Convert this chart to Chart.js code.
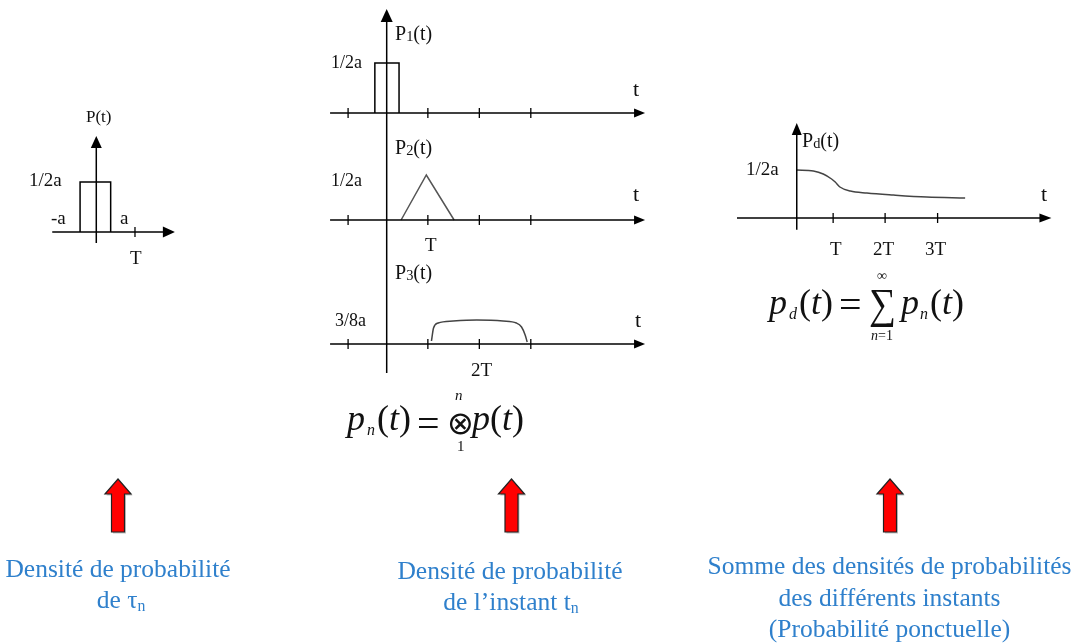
<!DOCTYPE html>
<html>
<head>
<meta charset="utf-8">
<script src="https://cdn.jsdelivr.net/npm/chart.js@4.4.0/dist/chart.umd.min.js"></script>
<style>
html, body { margin: 0; padding: 0; background: #fff; }
#wrap { position: relative; width: 1076px; height: 644px; overflow: hidden;
        font-family: "Liberation Serif", "Times New Roman", serif; color: #111; }
canvas { position: absolute; }
.lbl { position: absolute; white-space: nowrap; line-height: 1; }
.blue { color: #2f80cc; }
.sub { font-size: 0.72em; vertical-align: -0.08em; line-height: 0; }
.subn { font-size: 0.62em; vertical-align: -0.18em; line-height: 0; }
#arrows { position: absolute; left: 0; top: 0; }
</style>
</head>
<body>
<div id="wrap">
  <canvas id="cLeft" width="145" height="125" style="left:40px;top:125px"></canvas>
  <canvas id="cP1" width="350" height="140" style="left:310px;top:0px"></canvas>
  <canvas id="cP2" width="350" height="122" style="left:310px;top:140px"></canvas>
  <canvas id="cP3" width="350" height="118" style="left:310px;top:262px"></canvas>
  <canvas id="cRight" width="343" height="125" style="left:724px;top:115px"></canvas>
  <svg id="arrows" width="1076" height="644"></svg>
</div>
<script>
// --- values (t in units of T, or of a for the left plot) ---
// left : density of tau_n, a rectangle of height 1/2a between -a and a
const pT = [-1.06, -1.06, 0.94, 0.94];
const pVal = [0, 0.5, 0.5, 0];
const pTicks = [2.53];

// middle : p1, p2, p3
const p1T = [-0.23, -0.23, 0.24, 0.24];
const p1Val = [0, 0.5, 0.5, 0];
const p2T = [0.28, 0.77, 1.31];
const p2Val = [0, 0.45, 0];
const p3T = [0.87, 0.91, 1.0, 1.29, 1.75, 2.26, 2.52, 2.62, 2.69, 2.73];
const p3Val = [0.03, 0.16, 0.21, 0.23, 0.24, 0.23, 0.21, 0.17, 0.09, 0.02];
const midTicks = [-0.75, 0.8, 1.8, 2.8];

// right : sum of the densities
const pdT = [0, 0.32, 0.51, 0.67, 0.74, 0.83, 1.03, 1.35, 1.86, 2.5, 3.24];
const pdVal = [0.48, 0.47, 0.44, 0.39, 0.36, 0.31, 0.27, 0.25, 0.23, 0.21, 0.2];
const pdTicks = [0.7, 1.7, 2.71];

const wrap = document.getElementById('wrap');

// draws the x / y axes, the arrow heads and the little ticks
const axesPlugin = {
    id: 'axesArrows',
    afterDatasetsDraw(chart, args, o) {
        const ctx = chart.ctx, sx = chart.scales.x, sy = chart.scales.y;
        const x0 = sx.getPixelForValue(0), y0 = sy.getPixelForValue(0);
        ctx.save();
        ctx.strokeStyle = '#000';
        ctx.fillStyle = '#000';
        ctx.lineWidth = 1.5;

        const xa = sx.getPixelForValue(o.xFrom), xb = sx.getPixelForValue(o.xTo);
        ctx.beginPath();
        ctx.moveTo(xa, y0);
        ctx.lineTo(xb - o.hLen + 1, y0);
        ctx.stroke();
        ctx.beginPath();
        ctx.moveTo(xb, y0);
        ctx.lineTo(xb - o.hLen, y0 - o.hHalf);
        ctx.lineTo(xb - o.hLen, y0 + o.hHalf);
        ctx.closePath();
        ctx.fill();

        const ya = sy.getPixelForValue(o.yFrom), yb = sy.getPixelForValue(o.yTo);
        ctx.beginPath();
        ctx.moveTo(x0, ya);
        ctx.lineTo(x0, o.vArrow ? yb + o.vLen - 1 : yb);
        ctx.stroke();
        if (o.vArrow) {
            ctx.beginPath();
            ctx.moveTo(x0, yb);
            ctx.lineTo(x0 - o.vHalf, yb + o.vLen);
            ctx.lineTo(x0 + o.vHalf, yb + o.vLen);
            ctx.closePath();
            ctx.fill();
        }

        ctx.lineWidth = 1.3;
        o.ticks.forEach(function (t) {
            const px = sx.getPixelForValue(t);
            ctx.beginPath();
            ctx.moveTo(px, y0 - 5);
            ctx.lineTo(px, y0 + 5);
            ctx.stroke();
        });
        ctx.restore();
    }
};

function points(xs, ys) {
    return xs.map(function (x, i) { return { x: x, y: ys[i] }; });
}

function makeChart(id, datasets, xMin, xMax, yMin, yMax, axes) {
    return new Chart(document.getElementById(id), {
        type: 'line',
        data: { datasets: datasets },
        options: {
            responsive: false,
            animation: false,
            devicePixelRatio: 1,
            layout: { padding: 0 },
            elements: { point: { radius: 0 } },
            scales: {
                x: { type: 'linear', min: xMin, max: xMax, display: false },
                y: { type: 'linear', min: yMin, max: yMax, display: false }
            },
            plugins: {
                legend: { display: false },
                tooltip: { enabled: false },
                axesArrows: axes
            }
        },
        plugins: [axesPlugin]
    });
}

function line(xs, ys, color, smooth) {
    return {
        data: points(xs, ys),
        borderColor: color,
        borderWidth: 1.5,
        fill: false,
        tension: 0,
        cubicInterpolationMode: smooth ? 'monotone' : 'default',
        clip: false
    };
}

makeChart('cLeft', [line(pT, pVal, '#000')], -3.68, 5.8, -0.18, 1.07,
    { xFrom: -2.88, xTo: 5.14, yFrom: -0.11, yTo: 0.96, vArrow: true,
      hLen: 12, hHalf: 5.5, vLen: 12, vHalf: 5.5, ticks: pTicks });

makeChart('cP1', [line(p1T, p1Val, '#000')], -1.49, 5.31, -0.27, 1.13,
    { xFrom: -1.1, xTo: 5.02, yFrom: -0.27, yTo: 1.04, vArrow: true,
      hLen: 11, hHalf: 4.5, vLen: 13, vHalf: 6, ticks: midTicks });

makeChart('cP2', [line(p2T, p2Val, '#555')], -1.49, 5.31, -0.42, 0.8,
    { xFrom: -1.1, xTo: 5.02, yFrom: -0.42, yTo: 0.8, vArrow: false,
      hLen: 11, hHalf: 4.5, ticks: midTicks });

makeChart('cP3', [line(p3T, p3Val, '#444', true)], -1.49, 5.31, -0.36, 0.82,
    { xFrom: -1.1, xTo: 5.02, yFrom: -0.29, yTo: 0.82, vArrow: false,
      hLen: 11, hHalf: 4.5, ticks: midTicks });

makeChart('cRight', [line(pdT, pdVal, '#444', true)], -1.4, 5.2, -0.22, 1.03,
    { xFrom: -1.15, xTo: 4.9, yFrom: -0.117, yTo: 0.95, vArrow: true,
      hLen: 12, hHalf: 4.5, vLen: 12, vHalf: 5, ticks: pdTicks });

// text helpers : x = left edge, base = baseline
function label(html, x, base, size, cls, family) {
    const d = document.createElement('div');
    d.className = 'lbl' + (cls ? ' ' + cls : '');
    d.innerHTML = html;
    d.style.fontSize = size + 'px';
    d.style.left = x + 'px';
    d.style.top = (base - 0.8375 * size) + 'px';
    if (family) d.style.fontFamily = family;
    wrap.appendChild(d);
    return d;
}
function centered(html, cx, base, size, cls) {
    const d = label(html, cx - 250, base, size, cls);
    d.style.width = '500px';
    d.style.textAlign = 'center';
    return d;
}

// left plot labels
label('P(t)', 86, 122, 17);
label('1/2a', 29, 186, 19);
label('-a', 51, 224, 19);
label('a', 120, 224, 19);
label('T', 130, 264, 19);

// middle plot labels
label('P<span class="sub">1</span>(t)', 395, 39.5, 20);
label('1/2a', 331, 68, 18);
label('t', 633, 96.5, 22);
label('P<span class="sub">2</span>(t)', 395, 154, 20);
label('1/2a', 331, 186, 18);
label('t', 633, 201.5, 22);
label('T', 425, 251, 19);
label('P<span class="sub">3</span>(t)', 395, 279, 20);
label('3/8a', 335, 326, 18);
label('t', 635, 327, 22);
label('2T', 471, 376, 19);

// right plot labels
label('P<span class="sub">d</span>(t)', 802, 147, 20);
label('1/2a', 746, 175, 19);
label('t', 1041, 201.5, 22);
label('T', 830, 255, 19);
label('2T', 873, 255, 19);
label('3T', 925, 255, 19);

// formula p_n(t) = (x) p(t)
label('<i>p</i>', 347, 430, 36);
label('<i>n</i>', 367, 435, 16);
label('(<i>t</i>)', 377, 430, 36);
label('=', 417, 437, 40);
label('\u2297', 447, 434, 32, '', 'DejaVu Sans');
label('<i>n</i>', 455, 401, 15);
label('1', 457, 452, 15);
label('<i>p</i>(<i>t</i>)', 472, 430, 36);

// formula p_d(t) = sum p_n(t)
label('<i>p</i>', 769, 314, 36);
label('<i>d</i>', 789, 319, 16);
label('(<i>t</i>)', 799, 314, 36);
label('=', 839, 318, 40);
const sig = label('\u2211', 869, 318, 43);
sig.style.transform = 'scaleX(0.88)';
sig.style.transformOrigin = 'left center';
label('\u221E', 877, 281, 14);
label('<i>n</i>=1', 871, 341, 14);
label('<i>p</i>', 901, 314, 36);
label('<i>n</i>', 920, 319, 16);
label('(<i>t</i>)', 930, 314, 36);

// blue captions
centered('Densité de probabilité', 118, 577.5, 25.5, 'blue');
centered('de τ<span class="subn">n</span>', 121, 608, 25.5, 'blue');
centered('Densité de probabilité', 510, 579, 25.5, 'blue');
centered('de l’instant t<span class="subn">n</span>', 511, 610, 25.5, 'blue');
centered('Somme des densités de probabilités', 889.5, 574, 25.5, 'blue');
centered('des différents instants', 889.5, 606.5, 25.5, 'blue');
centered('(Probabilité ponctuelle)', 889.5, 637.5, 25.5, 'blue');

// red block arrows
const svg = document.getElementById('arrows');
[118, 511.5, 890].forEach(function (cx) {
    const pts = [[cx, 479], [cx + 13, 494], [cx + 6.5, 494], [cx + 6.5, 532],
                 [cx - 6.5, 532], [cx - 6.5, 494], [cx - 13, 494]];
    const s = pts.map(function (p) { return p.join(','); }).join(' ');
    const sh = pts.map(function (p) { return (p[0] + 1.5) + ',' + (p[1] + 1.5); }).join(' ');
    svg.insertAdjacentHTML('beforeend',
        '<polygon points="' + sh + '" fill="#888" opacity="0.5"/>' +
        '<polygon points="' + s + '" fill="#ff0000" stroke="#222" stroke-width="1.2"/>');
});
</script>
</body>
</html>
